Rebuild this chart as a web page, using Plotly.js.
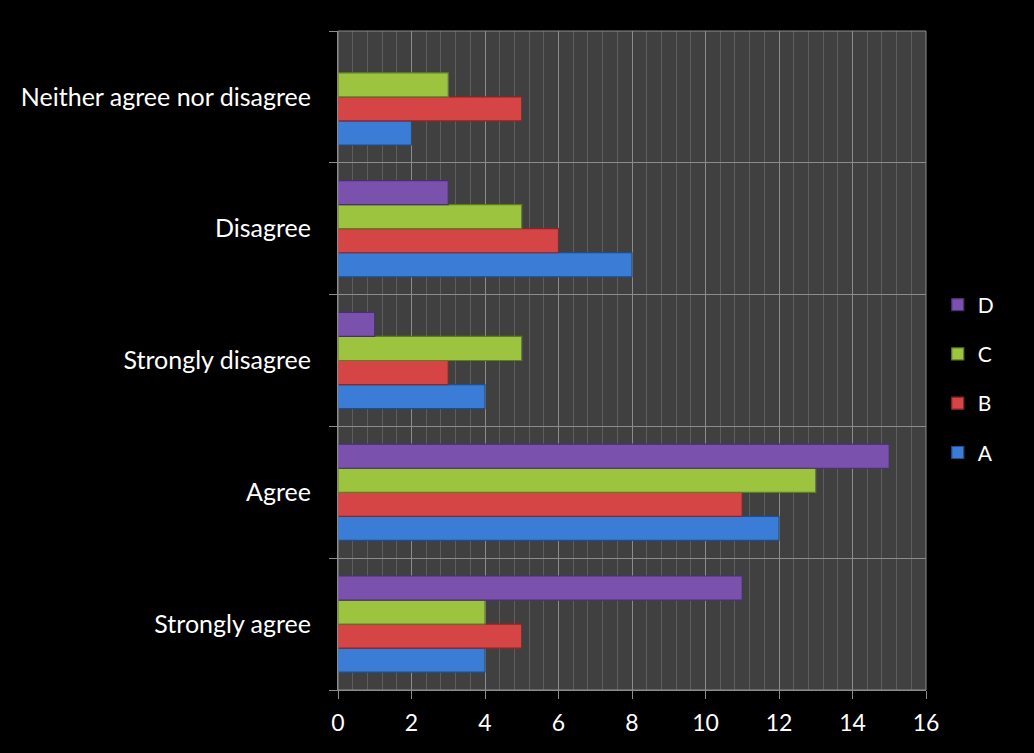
<!DOCTYPE html>
<html>
<head>
<meta charset="utf-8">
<script src="https://cdn.plot.ly/plotly-3.0.1.min.js"></script>
<style>
html,body{margin:0;padding:0;background:#000;}
#chart{width:1034px;height:753px;}
</style>
</head>
<body>
<div id="chart"></div>
<script>
const categories = ["Strongly agree", "Agree", "Strongly disagree", "Disagree", "Neither agree nor disagree"];
const seriesA = [4, 12, 4, 8, 2];
const seriesB = [5, 11, 3, 6, 5];
const seriesC = [4, 13, 5, 5, 3];
const seriesD = [11, 15, 1, 3, null];
const seriesNames = ["A", "B", "C", "D"];
const xTickVals = [0, 2, 4, 6, 8, 10, 12, 14, 16];

const colors = ["#3B7DD6", "#D64545", "#9CC43F", "#7A52AE"];
const lineColors = ["#1F4E8C", "#8C2525", "#5E7D22", "#4A2F70"];
const data = [seriesA, seriesB, seriesC, seriesD].map((vals, i) => ({
  type: "bar",
  orientation: "h",
  name: seriesNames[i],
  legendgroup: seriesNames[i],
  legendrank: 1000 - i,
  y: categories,
  x: vals,
  marker: {color: colors[i], line: {color: lineColors[i], width: 1.2}},
  hoverinfo: "x+name"
}));

const layout = {
  width: 1034, height: 753,
  paper_bgcolor: "#000000",
  plot_bgcolor: "#404040",
  margin: {l: 338, r: 108, t: 31, b: 63},
  barmode: "group",
  bargap: 0.27,
  bargroupgap: 0,
  font: {family: "Lato, 'Open Sans', sans-serif", color: "#ffffff", size: 24},
  xaxis: {
    range: [0, 16],
    tickvals: xTickVals,
    ticks: "outside", ticklen: 8, tickcolor: "#8c8c8c", tickwidth: 1,
    showgrid: true, gridcolor: "#8c8c8c", gridwidth: 1,
    minor: {dtick: 0.4, showgrid: true, gridcolor: "#5e5e5e", gridwidth: 1},
    zeroline: false,
    showline: true, linecolor: "#8c8c8c", linewidth: 1,
    ticklabelstandoff: 4,
    tickfont: {size: 23, color: "#ffffff"},
    fixedrange: true
  },
  yaxis: {
    type: "category",
    categoryorder: "array", categoryarray: categories,
    tickson: "boundaries",
    ticks: "outside", ticklen: 8, tickcolor: "#8c8c8c", tickwidth: 1,
    showgrid: true, gridcolor: "#8c8c8c", gridwidth: 1,
    showline: true, linecolor: "#8c8c8c", linewidth: 1,
    ticklabelstandoff: 21,
    tickfont: {size: 25, color: "#ffffff"},
    fixedrange: true
  },
  shapes: [
    {type: "rect", xref: "paper", yref: "paper", x0: 0, x1: 1, y0: 0, y1: 1,
     line: {color: "#8c8c8c", width: 1}, fillcolor: "rgba(0,0,0,0)"}
  ],
  legend: {
    x: 1.02, xanchor: "left", y: 0.472, yanchor: "middle",
    traceorder: "grouped",
    tracegroupgap: 19,
    font: {size: 21, color: "#ffffff"},
    bgcolor: "rgba(0,0,0,0)",
    itemwidth: 30
  },
  showlegend: true
};

Plotly.newPlot("chart", data, layout, {displayModeBar: false, staticPlot: true});
</script>
</body>
</html>
